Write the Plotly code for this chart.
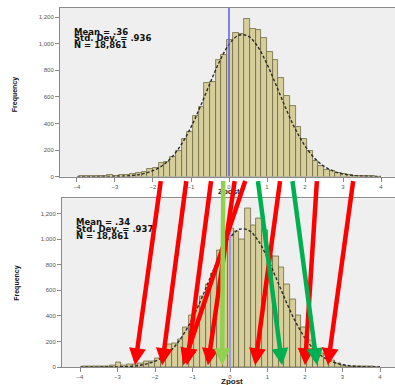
import numpy as np
import plotly.graph_objects as go

# ---------------- data ----------------
bin_width = 0.15
first_center = -3.875

top_counts = [2, 5, 8, 4, 3, 15, 8, 10, 12, 20, 28, 35, 55,
              62, 105, 108, 145, 195, 285, 335, 460, 525, 705, 715, 880, 918,
              1030, 1080, 1075, 1185, 1110, 1100, 1045, 935, 875, 745, 605, 530,
              375, 285, 195, 115, 82, 48, 40, 30, 18, 10, 5, 3, 2, 4, 1]
bottom_counts = [8, 3, 2, 4, 6, 12, 38, 15, 20, 18, 25, 45, 48,
                 65, 95, 180, 182, 220, 310, 400, 480, 555, 645, 730, 910, 1010,
                 1085, 1060, 1000, 1240, 1110, 1160, 1070, 870, 868, 775, 645, 530,
                 405, 310, 210, 147, 103, 64, 50, 25, 15, 8, 5, 3, 2, 2, 1]

curve_x = [-4, -3.75, -3.5, -3.25, -3, -2.75, -2.5, -2.25, -2, -1.75, -1.5, -1.25, -1,
           -0.75, -0.5, -0.25, 0, 0.25, 0.5, 0.75, 1, 1.25, 1.5, 1.75, 2, 2.25,
           2.5, 2.75, 3, 3.25, 3.5, 3.75, 4]
top_curve = [0, 0, 0.2, 0.7, 2, 4, 10, 22, 45, 84, 148, 244, 372, 530, 702, 866, 994,
             1063, 1058, 981, 847, 681, 510, 355, 231, 139, 78, 41, 20, 9, 4, 1.5, 0.5]
bottom_curve = [0, 0, 0.2, 0.8, 2, 4, 10, 23, 46, 87, 153, 251, 382, 543, 718, 882, 1010,
                1077, 1069, 989, 852, 682, 509, 353, 228, 137, 76, 40, 19, 9, 4, 1.5, 0.5]

top_stats = ["Mean = .36", "Std. Dev. = .936", "N = 18,861"]
bottom_stats = ["Mean = .34", "Std. Dev. = .937", "N = 18,861"]

# arrows: Zpost value in top chart -> Zpost value in bottom chart
arrow_from = [-1.84, -1.16, -0.50, 0.13, 0.42, 1.34, 2.32, -0.18, 0.74, 1.66, 3.29]
arrow_to = [-2.53, -1.81, -1.15, -0.59, -1.25, 0.67, 2.00, -0.21, 1.39, 2.32, 2.61]
arrow_colors = ["#ff0000", "#ff0000", "#ff0000", "#ff0000", "#ff0000", "#ff0000",
                "#ff0000", "#92d050", "#00b050", "#00b050", "#ff0000"]

y_ticks = [0, 200, 400, 600, 800, 1000, 1200]
x_ticks = [-4, -3, -2, -1, 0, 1, 2, 3, 4]

# ---------------- figure ----------------
W, H = 395, 385
centers = first_center + bin_width * np.arange(len(top_counts))

bar_fill = "#d6cf9c"
bar_line = "#6e6842"

fig = go.Figure()
fig.add_trace(go.Bar(x=centers, y=top_counts, width=bin_width, marker=dict(color=bar_fill, line=dict(color=bar_line, width=0.8)),
                     xaxis="x", yaxis="y", showlegend=False, hoverinfo="skip"))
fig.add_trace(go.Scatter(x=curve_x, y=top_curve, mode="lines", line=dict(color="#2a2a2a", width=1.4, dash="3px,2px", shape="spline"),
                         xaxis="x", yaxis="y", showlegend=False, hoverinfo="skip"))
fig.add_trace(go.Bar(x=centers, y=bottom_counts, width=bin_width, marker=dict(color=bar_fill, line=dict(color=bar_line, width=0.8)),
                     xaxis="x2", yaxis="y2", showlegend=False, hoverinfo="skip"))
fig.add_trace(go.Scatter(x=curve_x, y=bottom_curve, mode="lines", line=dict(color="#2a2a2a", width=1.4, dash="3px,2px", shape="spline"),
                         xaxis="x2", yaxis="y2", showlegend=False, hoverinfo="skip"))

top_dom_y = [207 / H, 377 / H]
bot_dom_y = [15 / H, 185 / H]
top_range_y = [0, 1269]
bot_range_y = [0, 1318]

axis_common = dict(showgrid=False, zeroline=False, showline=True, linecolor="#8a8a8a", linewidth=1,
                   ticks="outside", ticklen=4, tickcolor="#8a8a8a",
                   tickfont=dict(family="Liberation Sans, Arial", size=6, color="#555"))

fig.update_layout(
    width=W, height=H, margin=dict(l=0, r=0, t=0, b=0),
    paper_bgcolor="white", plot_bgcolor="#efefef", bargap=0,
    xaxis=dict(domain=[60 / W, 1], range=[-4.447, 4.368], tickvals=x_ticks, anchor="y", mirror=True, **axis_common),
    yaxis=dict(domain=top_dom_y, range=top_range_y, tickvals=y_ticks, tickformat=",d", anchor="x", **axis_common),
    xaxis2=dict(domain=[62 / W, 1], range=[-4.48, 4.40], tickvals=x_ticks, anchor="y2", mirror=True, **axis_common),
    yaxis2=dict(domain=bot_dom_y, range=bot_range_y, tickvals=y_ticks, tickformat=",d", anchor="x2", **axis_common),
)

# zero reference lines
fig.add_shape(type="line", xref="x", yref="y", x0=0, x1=0, y0=0, y1=top_range_y[1],
              line=dict(color="#5a5af0", width=1.5))
zero_bin = int(np.argmin(np.abs(centers)))
fig.add_shape(type="line", xref="x2", yref="y2", x0=0, x1=0, y0=0, y1=bottom_counts[zero_bin],
              line=dict(color="#9a9ae6", width=2))

ann = []
stat_font = dict(family="DejaVu Sans", size=8.5, color="#111")
for i, t in enumerate(top_stats):
    ann.append(dict(text="<b>%s</b>" % t, x=72 / W, y=(H - 32 - 6.6 * i) / H, xref="paper", yref="paper",
                    xanchor="left", yanchor="middle", showarrow=False, font=stat_font))
for i, t in enumerate(bottom_stats):
    ann.append(dict(text="<b>%s</b>" % t, x=74 / W, y=(H - 224 - 6.8 * i) / H, xref="paper", yref="paper",
                    xanchor="left", yanchor="middle", showarrow=False, font=stat_font))

title_font = dict(family="Liberation Sans Narrow, Liberation Sans, Arial", size=7, color="#111")
ann.append(dict(text="<b>Frequency</b>", textangle=-90, x=15 / W, y=(H - 95) / H, xref="paper", yref="paper",
                xanchor="center", yanchor="middle", showarrow=False, font=title_font))
ann.append(dict(text="<b>Frequency</b>", textangle=-90, x=17 / W, y=(H - 285) / H, xref="paper", yref="paper",
                xanchor="center", yanchor="middle", showarrow=False, font=title_font))
zfont = dict(family="Liberation Sans, Arial", size=8, color="#222")
ann.append(dict(text="<b>Zpost</b>", x=229 / W, y=(H - 193) / H, xref="paper", yref="paper",
                xanchor="center", yanchor="middle", showarrow=False, font=zfont))
ann.append(dict(text="<b>Zpost</b>", x=232 / W, y=(H - 384) / H, xref="paper", yref="paper",
                xanchor="center", yanchor="middle", showarrow=False, font=zfont))

# arrows from top chart axis down to bottom chart axis (expressed in bottom-chart coordinates)
def paper_to_y2(p):
    return bot_range_y[0] + (p - bot_dom_y[0]) / (bot_dom_y[1] - bot_dom_y[0]) * (bot_range_y[1] - bot_range_y[0])

tail_y = paper_to_y2((H - 181) / H)
tip_y = paper_to_y2((H - 368) / H)
for f, t, c in zip(arrow_from, arrow_to, arrow_colors):
    ann.append(dict(text="", x=t, y=tip_y, xref="x2", yref="y2", ax=f, ay=tail_y, axref="x2", ayref="y2",
                    showarrow=True, arrowhead=2, arrowsize=0.75, arrowwidth=4.5, arrowcolor=c, standoff=0))

fig.update_layout(annotations=ann)
fig.write_html("out.html", config={"displayModeBar": False},
               post_script="document.body.style.margin='0px';document.body.style.padding='0px';")
